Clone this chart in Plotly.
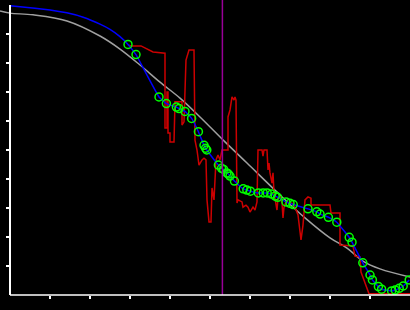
import plotly.graph_objects as go

# Smooth reference curve (gray)
gray_x = [-0.25, 0.0, 0.575, 1.425, 2.25, 2.75, 3.25, 3.75, 4.25, 4.75, 5.375, 5.925,
          6.75, 7.375, 8.0, 8.425, 8.825, 9.25, 10.0]
gray_y = [9.79, 9.72, 9.66, 9.45, 8.93, 8.48, 7.93, 7.34, 6.79, 6.14, 5.28, 4.55,
          3.45, 2.66, 1.97, 1.62, 1.17, 0.90, 0.62]

# Leading part of the fitted curve (blue, without markers)
blue_lead_x = [0.0, 0.25, 1.0, 1.42, 1.83, 2.25, 2.5, 2.75]
blue_lead_y = [9.97, 9.94, 9.83, 9.73, 9.58, 9.34, 9.16, 8.91]

# Sampled points (green circles, joined by the blue line)
pts_x = [2.95, 3.15, 3.725, 3.91, 4.16, 4.225, 4.375, 4.54, 4.71, 4.85, 4.89, 4.92,
         5.21, 5.29, 5.34, 5.42, 5.46, 5.5, 5.61, 5.83, 5.92, 6.01, 6.21, 6.33, 6.43,
         6.54, 6.63, 6.69, 6.9, 7.0, 7.08, 7.45, 7.67, 7.75, 7.96, 8.17, 8.48, 8.55,
         8.82, 9.0, 9.06, 9.21, 9.29, 9.54, 9.63, 9.73, 9.83, 9.98]
pts_y = [8.64, 8.29, 6.83, 6.60, 6.48, 6.43, 6.33, 6.09, 5.63, 5.16, 5.06, 5.00,
         4.48, 4.37, 4.33, 4.21, 4.17, 4.10, 3.93, 3.66, 3.62, 3.58, 3.52, 3.52, 3.52,
         3.48, 3.41, 3.37, 3.21, 3.16, 3.12, 2.97, 2.87, 2.79, 2.68, 2.51, 1.99, 1.82,
         1.11, 0.69, 0.52, 0.29, 0.20, 0.14, 0.17, 0.23, 0.31, 0.52]

# Raw noisy signal (red)
red_x = [2.95, 3.025, 3.275, 3.425, 3.575, 3.875, 3.875, 3.925, 3.925, 3.95, 3.95, 4.0,
         4.0, 4.1, 4.125, 4.3, 4.3, 4.35, 4.4, 4.475, 4.6, 4.625, 4.675, 4.725, 4.8,
         4.85, 4.9, 4.925, 4.975, 5.025, 5.05, 5.1, 5.15, 5.2, 5.25, 5.3, 5.45, 5.45,
         5.5, 5.55, 5.6, 5.625, 5.65, 5.675, 5.7, 5.8, 5.825, 5.9, 5.95, 6.0, 6.075,
         6.125, 6.175, 6.2, 6.3, 6.325, 6.35, 6.425, 6.45, 6.475, 6.5, 6.55, 6.575,
         6.6, 6.625, 6.675, 6.7, 6.75, 6.8, 6.825, 6.85, 6.9, 7.05, 7.125, 7.2, 7.275,
         7.325, 7.375, 7.45, 7.525, 7.525, 8.0, 8.025, 8.25, 8.25, 8.575, 8.625, 8.75,
         8.775, 8.975, 10.0]
red_y = [8.62, 8.59, 8.59, 8.48, 8.38, 8.34, 5.76, 5.76, 7.0, 7.0, 5.59, 5.59,
         5.28, 5.28, 6.66, 6.66, 5.86, 5.97, 8.10, 8.45, 8.45, 5.34, 5.0, 4.48, 4.66,
         4.72, 4.66, 3.28, 2.52, 2.52, 3.69, 3.28, 4.66, 4.83, 4.66, 5.0, 5.0, 6.14,
         6.38, 6.83, 6.72, 6.83, 6.72, 3.17, 3.28, 3.21, 3.03, 3.10, 3.03, 2.86, 3.03,
         2.93, 3.21, 5.0, 5.0, 4.79, 5.0, 5.0, 4.31, 4.55, 4.21, 3.86, 4.21,
         3.52, 3.28, 2.93, 3.34, 3.38, 3.17, 2.66, 3.03, 3.21, 3.17, 3.03, 2.76, 1.90,
         2.41, 3.28, 3.38, 3.34, 3.10, 3.10, 2.83, 2.83, 1.72, 1.69, 1.34, 1.31,
         0.79, 0.04, 0.04]

marker_x = 5.31
x_ticks = [1, 2, 3, 4, 5, 6, 7, 8, 9]
y_ticks = [1, 2, 3, 4, 5, 6, 7, 8, 9]

fig = go.Figure()
fig.add_trace(go.Scatter(x=gray_x, y=gray_y, mode="lines", line=dict(color="#a0a0a0", width=1.5, shape="spline"),
                         hoverinfo="skip"))
fig.add_trace(go.Scatter(x=red_x, y=red_y, mode="lines", line=dict(color="#cc0000", width=1.5),
                         hoverinfo="skip"))
fig.add_trace(go.Scatter(x=blue_lead_x + pts_x, y=blue_lead_y + pts_y, mode="lines",
                         line=dict(color="#0000ff", width=1.5, shape="spline", smoothing=0.3), hoverinfo="skip"))
fig.add_trace(go.Scatter(x=pts_x, y=pts_y, mode="markers",
                         marker=dict(symbol="circle-open", size=8, color="#00ff00", line=dict(width=1.5, color="#00ff00")),
                         hoverinfo="skip"))

fig.add_shape(type="line", xref="x", yref="paper", x0=marker_x, x1=marker_x, y0=0, y1=1 + 5 / 290,
              line=dict(color="#990099", width=1.5))
fig.add_shape(type="line", xref="x", yref="paper", x0=0, x1=10, y0=0, y1=0,
              line=dict(color="white", width=1.5))

fig.update_layout(
    width=410, height=310,
    margin=dict(l=0, r=0, t=5, b=15),
    paper_bgcolor="black", plot_bgcolor="black",
    showlegend=False,
    xaxis=dict(range=[-0.25, 10], tickvals=x_ticks, ticks="outside", ticklen=3, tickwidth=1.5,
               tickcolor="white", showticklabels=False, showgrid=False, zeroline=False, showline=False),
    yaxis=dict(range=[0, 10], tickvals=y_ticks, ticks="outside", ticklen=3, tickwidth=1.5,
               tickcolor="white", showticklabels=False, showgrid=False, zeroline=False,
               showline=True, linecolor="white", linewidth=1.5, anchor="free", position=10 / 410),
)

fig.write_html("out.html")
